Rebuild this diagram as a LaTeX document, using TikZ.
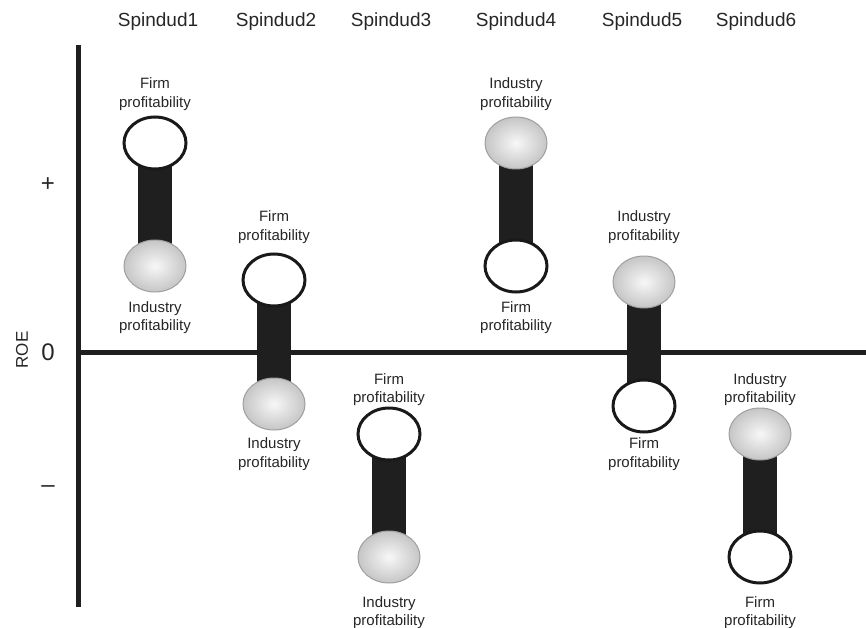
\documentclass[tikz,border=0pt]{standalone}
\usepackage{fontspec}
\setmainfont{Liberation Sans}
\usetikzlibrary{shapes.geometric,backgrounds}
\begin{document}
\begin{tikzpicture}[x=1pt,y=-1pt,
  ball/.style={ellipse,minimum width=62pt,minimum height=52pt,inner sep=0pt},
  firmball/.style={ball,fill=white,draw=black!90,line width=3pt},
  indball/.style={ball,inner color=gray!6,outer color=gray!45,draw=gray!75,line width=1pt},
  lbl/.style={align=center,font=\fontsize{15}{18.5}\selectfont,text=black!85,inner sep=0pt},
  ttl/.style={font=\fontsize{19}{22}\selectfont,text=black!85,inner sep=0pt},
  axislbl/.style={font=\fontsize{24}{26}\selectfont,text=black!85,inner sep=0pt},
  axisline/.style={line width=5pt,draw=black!88},
  barline/.style={line width=34pt,draw=black!88}]
\useasboundingbox (0,0) rectangle (866,628);

% axes
\coordinate (vtop) at (78,45);
\coordinate (vbot) at (78,607);
\coordinate (hleft) at (78,352);
\coordinate (hright) at (866,352);

% titles
\node[ttl] (t1) at (158,22) {Spindud1};
\node[ttl] (t2) at (276,22) {Spindud2};
\node[ttl] (t3) at (391,22) {Spindud3};
\node[ttl] (t4) at (516,22) {Spindud4};
\node[ttl] (t5) at (642,22) {Spindud5};
\node[ttl] (t6) at (756,22) {Spindud6};

% axis labels
\node[axislbl] (plus) at (48,185) {+};
\node[axislbl] (zero) at (48,352) {0};
\node[axislbl] (minus) at (48,489) {–};
\node[font=\fontsize{17}{20}\selectfont,text=black!85,rotate=90,inner sep=0pt] (roe) at (22,350) {ROE};

% dumbbell 1
\node[firmball] (f1) at (155,143) {};
\node[indball] (i1) at (155,266) {};
\node[lbl] (lf1) at (155,94) {Firm\\profitability};
\node[lbl] (li1) at (155,317.5) {Industry\\profitability};

% dumbbell 2
\node[firmball] (f2) at (274,280) {};
\node[indball] (i2) at (274,404) {};
\node[lbl] (lf2) at (274,227) {Firm\\profitability};
\node[lbl] (li2) at (274,454) {Industry\\profitability};

% dumbbell 3
\node[firmball] (f3) at (389,434) {};
\node[indball] (i3) at (389,557) {};
\node[lbl] (lf3) at (389,389.5) {Firm\\profitability};
\node[lbl] (li3) at (389,612.5) {Industry\\profitability};

% dumbbell 4
\node[indball] (i4) at (516,143) {};
\node[firmball] (f4) at (516,266) {};
\node[lbl] (li4) at (516,94) {Industry\\profitability};
\node[lbl] (lf4) at (516,317.5) {Firm\\profitability};

% dumbbell 5
\node[indball] (i5) at (644,282) {};
\node[firmball] (f5) at (644,406) {};
\node[lbl] (li5) at (644,227) {Industry\\profitability};
\node[lbl] (lf5) at (644,454) {Firm\\profitability};

% dumbbell 6
\node[indball] (i6) at (760,434) {};
\node[firmball] (f6) at (760,557) {};
\node[lbl] (li6) at (760,389.5) {Industry\\profitability};
\node[lbl] (lf6) at (760,612.5) {Firm\\profitability};

\begin{scope}[on background layer]
  \draw[axisline] (vtop) -- (vbot);
  \draw[axisline] (hleft) -- (hright);
  \draw[barline] (f1.center) -- (i1.center);
  \draw[barline] (f2.center) -- (i2.center);
  \draw[barline] (f3.center) -- (i3.center);
  \draw[barline] (i4.center) -- (f4.center);
  \draw[barline] (i5.center) -- (f5.center);
  \draw[barline] (i6.center) -- (f6.center);
\end{scope}
\end{tikzpicture}
\end{document}
